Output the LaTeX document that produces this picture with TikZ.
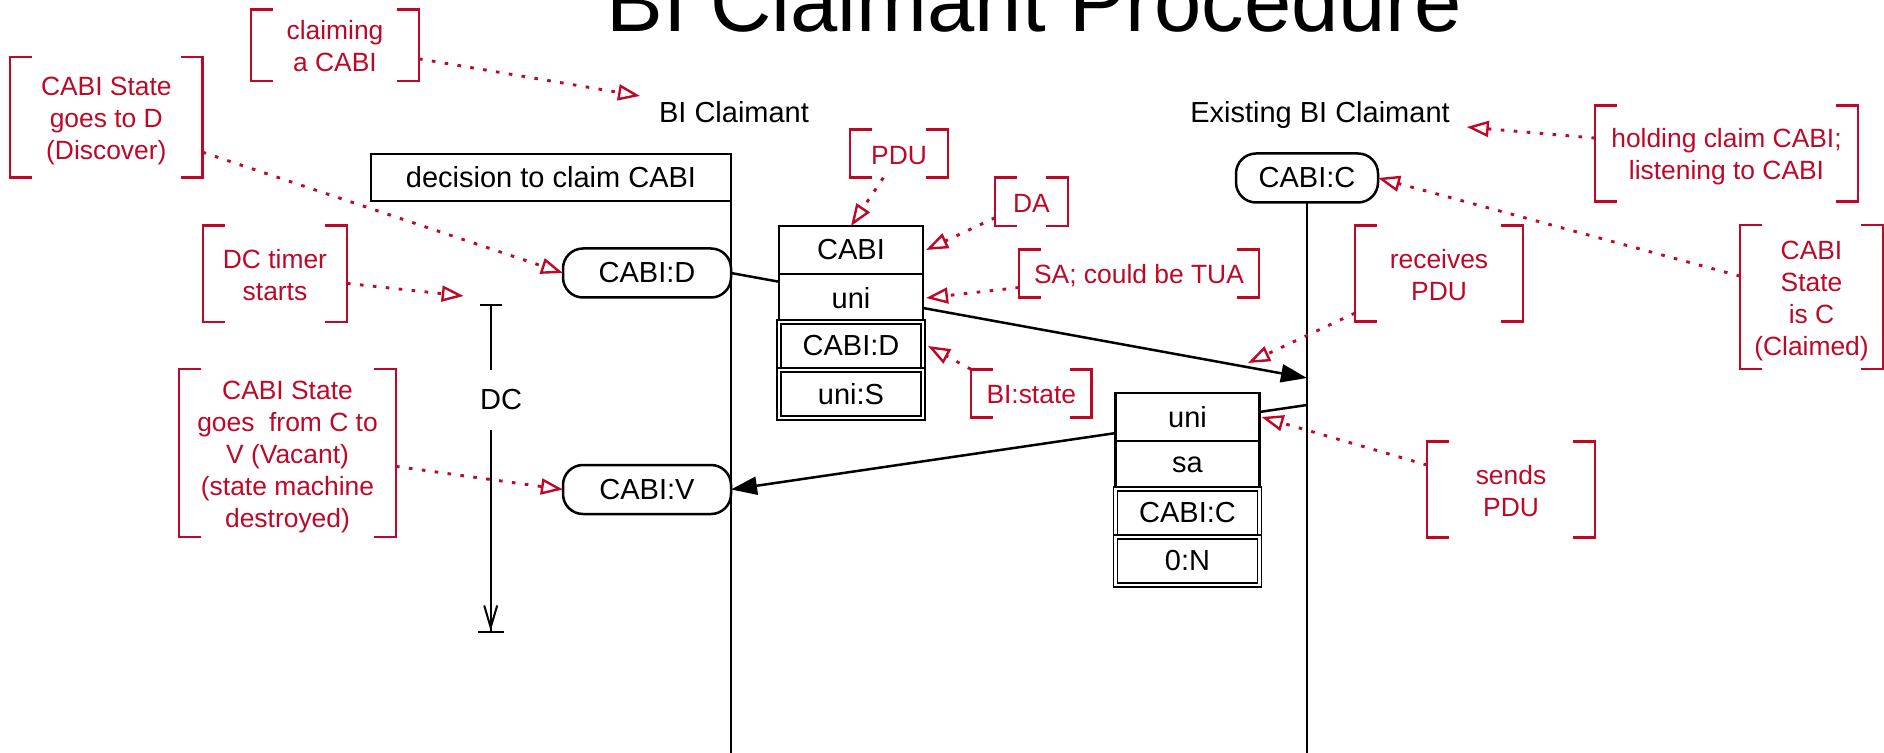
\documentclass[tikz,border=0pt]{standalone}
\usepackage{fontspec}
\setmainfont{Liberation Sans}
\usetikzlibrary{arrows.meta,calc}
\definecolor{annred}{RGB}{190,8,40}
\newcommand\annstrut{\rule[-2.75pt]{0pt}{16pt}}
\newcommand\annbrackets[1]{%
  \draw[annbr] ([xshift=11pt]#1.north west) -| (#1.south west) -- ++(11pt,0pt);
  \draw[annbr] ([xshift=-11pt]#1.north east) -| (#1.south east) -- ++(-11pt,0pt);}
\begin{document}
\begin{tikzpicture}[x=0.5pt,y=-0.5pt,
  every node/.style={outer sep=0pt},
  txt/.style={font=\fontsize{14.5pt}{17pt}\selectfont, inner sep=0pt},
  cell/.style={txt, draw, line width=1.35pt, fill=white, minimum width=72pt, minimum height=24pt},
  dcell/.style={cell, line width=0.65pt, double, double distance=1.3pt},
  pill/.style={txt, draw, line width=1.25pt, rounded corners=10pt, fill=white, minimum height=24.5pt},
  msg/.style={line width=1.25pt, -{Triangle[length=13pt,width=9pt]}},
  life/.style={line width=1pt},
  ann/.style={text=annred, font=\fontsize{13.2pt}{16pt}\selectfont, align=center, inner sep=0pt},
  annbr/.style={draw=annred, line width=1.35pt},
  note/.style={draw=annred, line width=1.45pt, dash pattern=on 1.8pt off 4.7pt,
    -{Triangle[open, length=11pt, width=8pt, line width=1.2pt]}}
]
\useasboundingbox (0,0) rectangle (1884,753);
\clip (0,0) rectangle (1884,753);

% title and lifeline heads
\node[font=\fontsize{42.5pt}{50pt}\selectfont, inner sep=0pt, anchor=base] (title) at (1034,32) {BI Claimant Procedure};
\node[txt, anchor=base] (bic) at (734,123) {BI Claimant};
\node[txt, anchor=base] (ebic) at (1320,123) {Existing BI Claimant};
\node[txt, draw, line width=1.35pt, minimum width=180pt, minimum height=23.5pt] (dec) at (551,177.5) {decision to claim CABI};
\node[pill, minimum width=71pt] (cabiC) at (1307,178) {CABI:C};

% lifelines
\coordinate (ll1end) at (731,760);
\coordinate (ll2end) at (1307,760);
\draw[life] (dec.south east) -- (ll1end);
\draw[life] (cabiC.south) -- (ll2end);

% states
\node[pill, minimum width=84pt] (cabiD) at (647,273) {CABI:D};
\node[pill, minimum width=84pt] (cabiV) at (647,489.5) {CABI:V};

% messages
\coordinate (m1end) at (1307,378);
\coordinate (m2start) at (1307,405);
\draw[msg] (cabiD.east) -- (m1end);
\draw[msg] (m2start) -- (cabiV.east);

% PDU stacks
\node[cell] (c1a) at (851,250) {CABI};
\node[cell] (c1b) at (851,298) {uni};
\node[dcell] (c1c) at (851,346) {CABI:D};
\node[dcell] (c1d) at (851,394) {uni:S};
\node[cell] (c2a) at (1187.5,417) {uni};
\node[cell] (c2b) at (1187.5,465) {sa};
\node[dcell] (c2c) at (1187.5,513) {CABI:C};
\node[dcell] (c2d) at (1187.5,561) {0:N};

% DC timer
\coordinate (dctop) at (490.7,304);
\coordinate (dcbot) at (490.7,633);
\node[txt, minimum height=30pt] (dc) at (501,400) {DC};
\draw[life, {Bar[width=11pt]}-] (dctop) -- (dctop |- dc.north);
\draw[life, -{Straight Barb[length=11pt,width=6.5pt,sep=0pt] Bar[width=13pt]}] (dctop |- dc.south) -- (dcbot);

% annotations
\node[ann, minimum width=84pt, minimum height=35.75pt] (n1) at (335,45.25) {\annstrut claiming\\\annstrut a CABI};
\node[ann, minimum width=96.3pt, minimum height=60.25pt] (n2) at (106.3,117.25) {\annstrut CABI State\\\annstrut goes to D\\\annstrut (Discover)};
\node[ann, minimum width=72pt, minimum height=48.25pt] (n3) at (275,273.75) {\annstrut DC timer\\\annstrut starts};
\node[ann, minimum width=108.5pt, minimum height=84pt] (n4) at (287.5,453) {\annstrut CABI State\\\annstrut goes\ \ from C to\\\annstrut V (Vacant)\\\annstrut (state machine\\\annstrut destroyed)};
\node[ann, minimum width=49pt, minimum height=24.1pt] (n5) at (899,153.6) {\annstrut PDU};
\node[ann, minimum width=36.5pt, minimum height=24.25pt] (n6) at (1031.5,201.75) {\annstrut DA};
\node[ann, minimum width=120pt, minimum height=24.2pt] (n7) at (1139,273.5) {\annstrut SA; could be TUA};
\node[ann, minimum width=60.25pt, minimum height=24.2pt] (n8) at (1031.25,393.5) {\annstrut BI:state};
\node[ann, minimum width=131.5pt, minimum height=48.2pt] (n9) at (1726.5,153.5) {\annstrut holding claim CABI;\\\annstrut listening to CABI};
\node[ann, minimum width=71.5pt, minimum height=72pt] (n10) at (1811.5,297) {\annstrut CABI\\\annstrut State\\\annstrut is C\\\annstrut (Claimed)};
\node[ann, minimum width=84pt, minimum height=48pt] (n11) at (1439,273.7) {\annstrut receives\\\annstrut PDU};
\node[ann, minimum width=84pt, minimum height=48pt] (n12) at (1511,489.7) {\annstrut sends\\\annstrut PDU};

\annbrackets{n1}
\annbrackets{n2}
\annbrackets{n3}
\annbrackets{n4}
\annbrackets{n5}
\annbrackets{n6}
\annbrackets{n7}
\annbrackets{n8}
\annbrackets{n9}
\annbrackets{n10}
\annbrackets{n11}
\annbrackets{n12}

% annotation connectors
\coordinate (dcnote) at ($(dctop)+(-27,-8)$);
\coordinate (rcv) at (1248,363);
\draw[note] ($(n1.north east)!0.69!(n1.south east)$) -- ([xshift=-9.5pt,yshift=3pt]bic.north west);
\draw[note] ($(n2.north east)!0.79!(n2.south east)$) -- (cabiD.west);
\draw[note] ($(n3.north east)!0.6!(n3.south east)$) -- (dcnote);
\draw[note] ($(n4.north east)!0.58!(n4.south east)$) -- (cabiV.west);
\draw[note] ($(n5.south west)!0.34!(n5.south east)$) -- (c1a.north);
\draw[note] ($(n6.north west)!0.83!(n6.south west)$) -- ([xshift=1.5pt]c1a.east);
\draw[note] ($(n7.north west)!0.79!(n7.south west)$) -- ([xshift=1.5pt]c1b.east);
\draw[note] (n8.north west) -- ([xshift=2.5pt]c1c.east);
\draw[note] ($(n9.north west)!0.34!(n9.south west)$) -- ([xshift=8.5pt,yshift=1pt]ebic.south east);
\draw[note] ($(n10.north west)!0.355!(n10.south west)$) -- (cabiC.east);
\draw[note] ($(n11.north west)!0.91!(n11.south west)$) -- (rcv);
\draw[note] ($(n12.north west)!0.243!(n12.south west)$) -- ([xshift=1pt]c2a.east);
\end{tikzpicture}
\end{document}
